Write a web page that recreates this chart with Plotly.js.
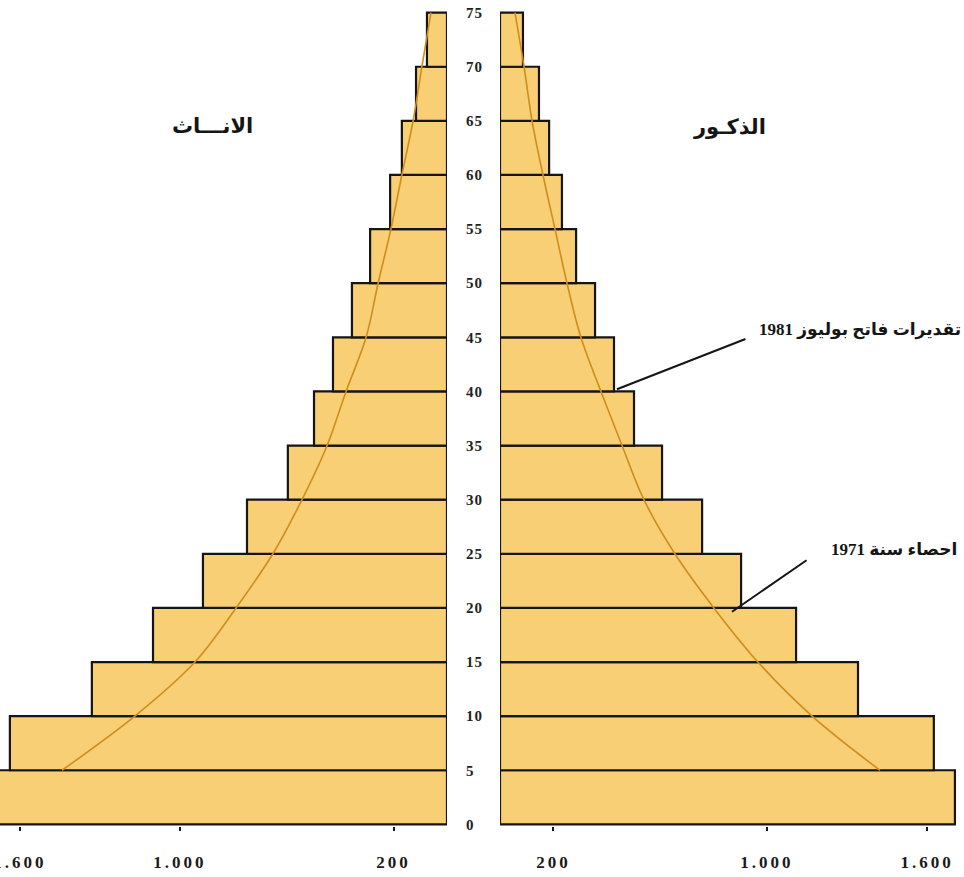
<!DOCTYPE html>
<html>
<head>
<meta charset="utf-8">
<script src="https://cdn.plot.ly/plotly-3.0.1.min.js"></script>
<style>
  body { margin: 0; background: #fff; }
  #chart { width: 964px; height: 877px; }
  .xtick text, .x2tick text { letter-spacing: 3px; }
  .ytick text { letter-spacing: 1px; }
</style>
</head>
<body>
<div id="chart"></div>
<script>
// bdaye fiat (start of each age group)
var ageStart = [0, 5, 10, 15, 20, 25, 30, 35, 40, 45, 50, 55, 60, 65, 70];
var ageTicks = [0, 5, 10, 15, 20, 25, 30, 35, 40, 45, 50, 55, 60, 65, 70, 75];

// bars (thousands)
var femaleBars = [1700, 1637, 1330, 1101, 914, 749, 596, 498, 427, 356, 288, 213, 169, 116, 75];
var maleBars = [1704, 1625, 1341, 1109, 903, 757, 607, 502, 427, 356, 285, 232, 184, 146, 86];

// curve, read at the group boundaries
var curveAges = [5, 10, 15, 20, 25, 30, 35, 40, 45, 50, 55, 60, 65, 70, 75];
var femaleCurve = [1442, 1169, 944, 790, 652, 543, 449, 378, 303, 258, 210, 169, 127, 94, 60];
var maleCurve = [1423, 1169, 966, 801, 655, 539, 457, 378, 303, 251, 206, 161, 120, 90, 56];

var xTickVals = [200, 1000, 1600];
var xTickText = ['200', '1.000', '1.600'];

var barFill = '#f8cf74';
var curveColor = '#d08c1c';
var ink = '#151515';

var traces = [
  {
    type: 'bar', orientation: 'h',
    x: femaleBars, y: ageStart, width: 5, offset: 0,
    xaxis: 'x', yaxis: 'y',
    marker: {color: barFill, line: {color: ink, width: 2.2}},
    hoverinfo: 'x+y'
  },
  {
    type: 'bar', orientation: 'h',
    x: maleBars, y: ageStart, width: 5, offset: 0,
    xaxis: 'x2', yaxis: 'y',
    marker: {color: barFill, line: {color: ink, width: 2.2}},
    hoverinfo: 'x+y'
  },
  {
    type: 'scatter', mode: 'lines',
    x: femaleCurve, y: curveAges,
    xaxis: 'x', yaxis: 'y',
    line: {color: curveColor, width: 1.6, shape: 'spline'}
  },
  {
    type: 'scatter', mode: 'lines',
    x: maleCurve, y: curveAges,
    xaxis: 'x2', yaxis: 'y',
    line: {color: curveColor, width: 1.6, shape: 'spline'}
  }
];

var tickFont = {family: 'Liberation Serif, serif', size: 17, color: '#1a1a1a', weight: 'bold'};
var arFont = {family: 'Liberation Serif, DejaVu Sans, serif', size: 17, color: ink, weight: 'bold'};
var titleFont = {family: 'DejaVu Sans, sans-serif', size: 21, color: ink, weight: 'bold'};

var layout = {
  width: 964, height: 877,
  margin: {l: 0, r: 0, t: 11, b: 51},
  paper_bgcolor: '#fff', plot_bgcolor: 'rgba(0,0,0,0)',
  showlegend: false,
  bargap: 0,
  xaxis: {
    domain: [0, 447 / 964], range: [1674, 0], anchor: 'y',
    tickvals: xTickVals, ticktext: xTickText,
    ticks: 'outside', ticklen: 4, tickwidth: 2, tickcolor: ink,
    ticklabelstandoff: 17, ticklabeloverflow: 'allow',
    showgrid: false, zeroline: false, showline: false,
    tickfont: tickFont
  },
  xaxis2: {
    domain: [500 / 964, 1], range: [0, 1738], anchor: 'y',
    tickvals: xTickVals, ticktext: xTickText,
    ticks: 'outside', ticklen: 4, tickwidth: 2, tickcolor: ink,
    ticklabelstandoff: 17, ticklabeloverflow: 'allow',
    showgrid: false, zeroline: false, showline: false,
    tickfont: tickFont
  },
  yaxis: {
    range: [-0.15, 75.15], anchor: 'x', side: 'right',
    tickvals: ageTicks, ticks: '',
    ticklabelstandoff: 18,
    showgrid: false, zeroline: false, showline: false,
    tickfont: {family: 'Liberation Serif, serif', size: 15, color: '#222', weight: 'bold'}
  },
  annotations: [
    {xref: 'paper', yref: 'paper', x: 212 / 964, y: 1 - (126 - 11) / 815, xanchor: 'center', yanchor: 'middle',
     text: 'الانـــاث', showarrow: false, font: titleFont},
    {xref: 'paper', yref: 'paper', x: 729 / 964, y: 1 - (127 - 11) / 815, xanchor: 'center', yanchor: 'middle',
     text: 'الذكـور', showarrow: false, font: titleFont},
    // pointers
    {xref: 'x2', yref: 'y', x: 438, y: 40.2, axref: 'x2', ayref: 'y', ax: 925, ay: 44.9,
     text: '', showarrow: true, arrowhead: 0, arrowwidth: 2, arrowcolor: ink},
    {xref: 'x2', yref: 'y', x: 869, y: 19.65, axref: 'x2', ayref: 'y', ax: 1154, ay: 24.5,
     text: '', showarrow: true, arrowhead: 0, arrowwidth: 2, arrowcolor: ink},
    {xref: 'x2', yref: 'y', x: 1733, y: 45.7, xanchor: 'right', yanchor: 'middle', text: 'تقديرات فاتح بوليوز 1981',
     showarrow: false, font: arFont},
    {xref: 'x2', yref: 'y', x: 1718, y: 25.4, xanchor: 'right', yanchor: 'middle', text: 'احصاء سنة 1971',
     showarrow: false, font: arFont}
  ]
};

Plotly.newPlot('chart', traces, layout, {displayModeBar: false, staticPlot: true});
</script>
</body>
</html>
